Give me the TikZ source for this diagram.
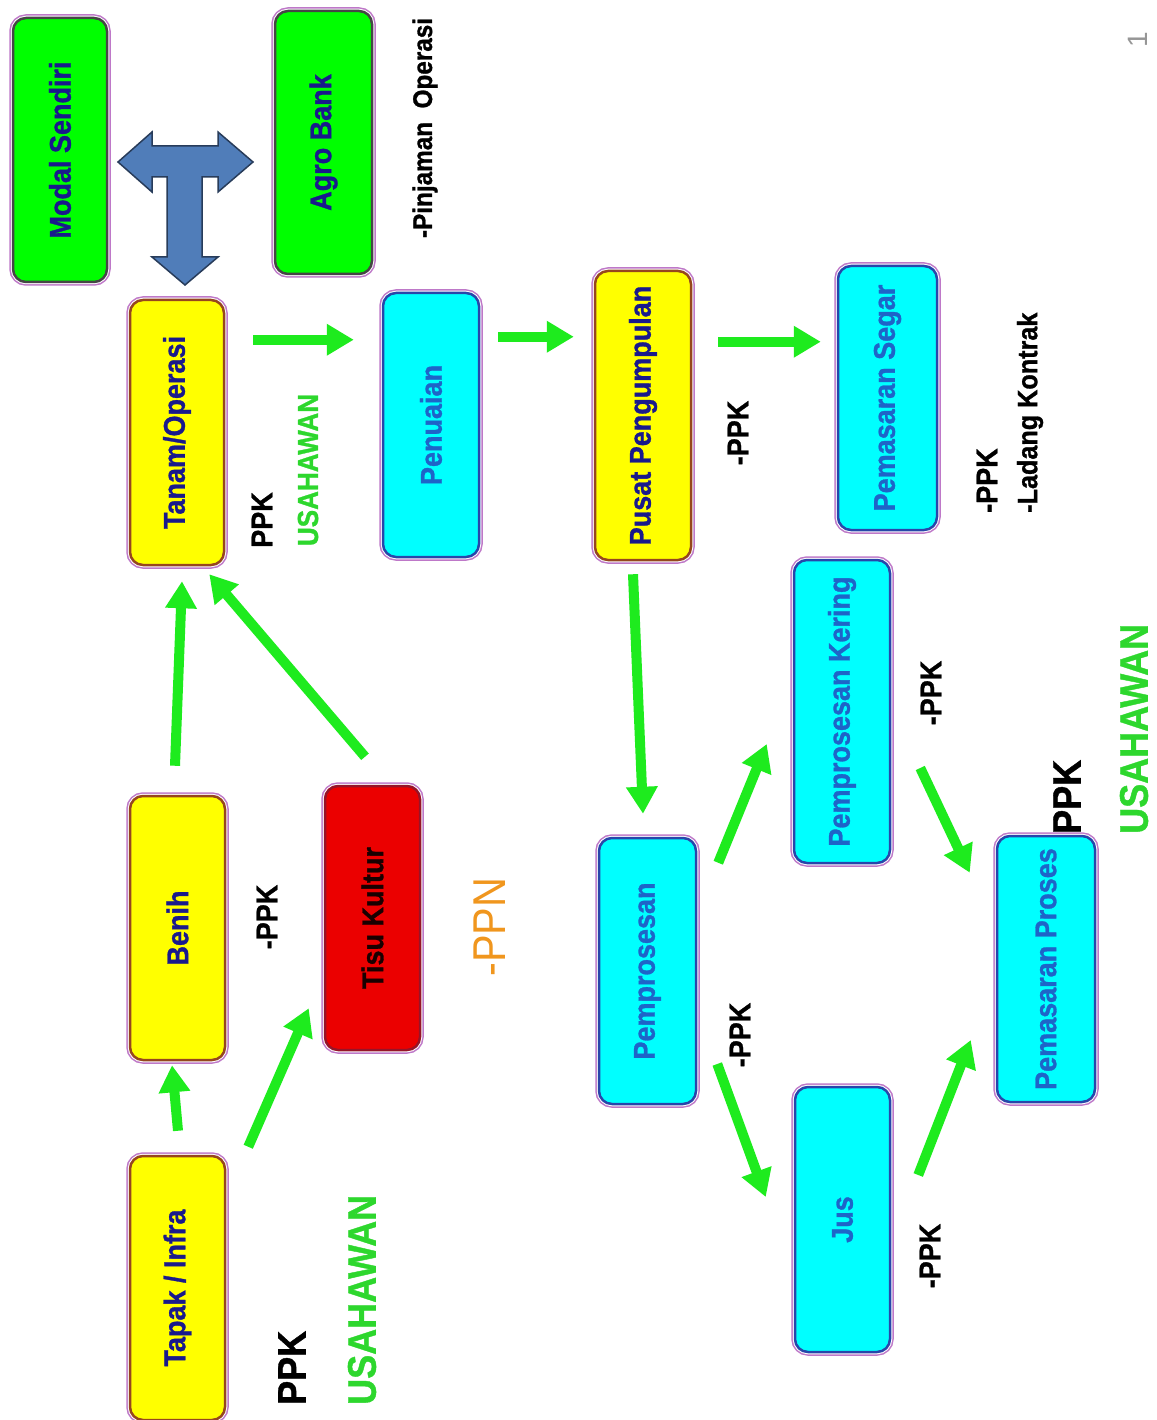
\documentclass[tikz,border=0pt]{standalone}
\usepackage{fontspec}
\usepackage{graphicx}
\setmainfont{Liberation Sans}
\newfontfamily\nf[FakeStretch=0.9, BoldFeatures={FakeBold=1}]{Liberation Sans}
\usetikzlibrary{arrows.meta,calc}
\definecolor{outerp}{RGB}{190,120,200}
\definecolor{brownline}{RGB}{150,70,30}
\definecolor{blueline}{RGB}{40,70,170}
\definecolor{grayline}{RGB}{70,70,70}
\definecolor{redline}{RGB}{150,20,40}
\definecolor{navytext}{RGB}{25,25,140}
\definecolor{bluetext}{RGB}{30,100,200}
\definecolor{flowgreen}{RGB}{30,235,30}
\definecolor{usgreen}{RGB}{45,215,45}
\definecolor{ppnorange}{RGB}{240,150,30}
\definecolor{steel}{RGB}{80,125,185}
\definecolor{steelline}{RGB}{40,60,90}
\definecolor{boxred}{RGB}{235,0,0}
\definecolor{boxcyan}{RGB}{0,255,255}
\definecolor{boxyellow}{RGB}{255,255,0}
\definecolor{boxgreen}{RGB}{0,255,0}
\definecolor{pagegray}{RGB}{150,150,150}
\begin{document}
\begin{tikzpicture}[x=1pt,y=-1pt,
  box/.style={rounded corners=13pt, inner sep=0pt,
    preaction={draw=outerp,line width=7.5pt},
    preaction={draw=white,line width=4.5pt},
    line width=2.5pt, font=\nf\bfseries\fontsize{30}{34}\selectfont},
  ybox/.style={box, fill=boxyellow, draw=brownline, text=navytext},
  cbox/.style={box, fill=boxcyan, draw=blueline, text=bluetext},
  gbox/.style={box, fill=boxgreen, draw=grayline, text=navytext},
  rbox/.style={box, fill=boxred, draw=redline, text={black!90!red}},
  lab/.style={rotate=90, inner sep=0pt, font=\nf\bfseries\fontsize{30}{34}\selectfont, text=black},
  biglab/.style={lab, font=\nf\bfseries\fontsize{40}{44}\selectfont},
  uslab/.style={lab, text=usgreen},
  flow/.style={draw=flowgreen, line width=10pt, -{Triangle[width=30pt,length=27pt]}},
  tarrow/.style={fill=steel, draw=steelline, line width=1.5pt, line join=miter}
]
\useasboundingbox (0,0) rectangle (1156,1420);
\fill[white] (0,0) rectangle (1156,1420);
\clip (0,0) rectangle (1156,1420);

% boxes
\node[gbox, minimum width=94pt, minimum height=264pt] (modal) at (60,150) {\rotatebox{90}{Modal Sendiri}};
\node[gbox, minimum width=97pt, minimum height=263pt] (agro) at (323.5,142.5) {\rotatebox{90}{Agro Bank}};
\node[ybox, minimum width=94pt, minimum height=265pt] (tanam) at (177,432.5) {\rotatebox{90}{Tanam/Operasi}};
\node[cbox, minimum width=96pt, minimum height=264pt] (penuaian) at (431,425) {\rotatebox{90}{Penuaian}};
\node[ybox, minimum width=96pt, minimum height=289pt] (pusat) at (643,415.5) {\rotatebox{90}{Pusat Pengumpulan}};
\node[cbox, minimum width=99pt, minimum height=264pt] (segar) at (887.5,398) {\rotatebox{90}{Pemasaran Segar}};
\node[ybox, minimum width=95pt, minimum height=264pt] (benih) at (177.5,928) {\rotatebox{90}{Benih}};
\node[rbox, minimum width=95pt, minimum height=264pt] (tisu) at (372.5,918) {\rotatebox{90}{Tisu Kultur}};
\node[ybox, minimum width=95pt, minimum height=264pt] (tapak) at (177.5,1288) {\rotatebox{90}{Tapak / Infra}};
\node[cbox, minimum width=97pt, minimum height=266pt] (pemprosesan) at (647.5,971) {\rotatebox{90}{Pemprosesan}};
\node[cbox, minimum width=96pt, minimum height=303pt] (kering) at (842,711.5) {\rotatebox{90}{Pemprosesan Kering}};
\node[cbox, minimum width=98pt, minimum height=266pt] (proses) at (1046,969) {\rotatebox{90}{Pemasaran Proses}};
\node[cbox, minimum width=95pt, minimum height=265pt] (jus) at (842.5,1219.5) {\rotatebox{90}{Jus}};

% T-shaped block arrow
\draw[tarrow] (118,162) -- (152,132) -- (152,146) -- (218,146) -- (218,132) -- (253,162)
  -- (218,192) -- (218,177) -- (202,177) -- (202,257) -- (218,257) -- (185,285)
  -- (152,257) -- (167,257) -- (167,177) -- (152,177) -- (152,192) -- cycle;

% labels
\node[lab, font=\nf\bfseries\fontsize{27}{30}\selectfont] (pinjaman) at (425,128) {-Pinjaman\ \ Operasi};
\node[lab] (ppk1) at (262,520) {PPK};
\node[uslab, font=\nf\bfseries\fontsize{29}{32}\selectfont] (us1) at (308,470) {USAHAWAN};
\node[lab] (ppk2) at (738,433) {-PPK};
\node[lab, anchor=west] (ppk3) at (987,513) {-PPK};
\node[lab, anchor=west, font=\nf\bfseries\fontsize{28}{32}\selectfont] (ladang) at (1030,513) {-Ladang Kontrak};
\node[lab] (ppk4) at (267,917) {-PPK};
\node[lab, font=\nf\fontsize{46}{50}\selectfont, text=ppnorange] (ppn) at (490,927) {-PPN};
\node[biglab, anchor=west] (ppk5) at (292,1405) {PPK};
\node[biglab, text=usgreen, anchor=west] (us2) at (362,1405) {USAHAWAN};
\node[lab] (ppk6) at (931,693) {-PPK};
\node[biglab, anchor=west] (ppk7) at (1067,834) {PPK};
\node[biglab, text=usgreen, anchor=west, font=\nf\bfseries\fontsize{40}{44}\selectfont] (us3) at (1134,834) {USAHAWAN};
\node[lab] (ppk8) at (740,1035) {-PPK};
\node[lab] (ppk9) at (930,1256) {-PPK};
\node[rotate=90, inner sep=0pt, text=pagegray, font=\rmfamily\fontsize{28}{30}\selectfont] (pagenum) at (1138,40) {1};

% flow arrows
\draw[flow] ($(tapak.north)+(0.5,-24)$) -- ($(benih.south)+(-5.5,4)$);
\draw[flow] ($(tapak.north east)+(22,-8)$) -- ($(tisu.south west)+(-15,-43)$);
\draw[flow] ($(benih.north)+(-2.5,-29)$) -- ($(tanam.south)+(5,15)$);
\draw[flow] ($(tisu.north)+(-7.5,-28)$) -- ($(tanam.south east)+(-16,8)$);
\draw[flow] ($(tanam.north east)+(28,41)$) -- ($(penuaian.north west)+(-28,48)$);
\draw[flow] ($(penuaian.north east)+(18,45)$) -- ($(pusat.north west)+(-20,67)$);
\draw[flow] ($(pusat.north east)+(26,72)$) -- ($(segar.north west)+(-16,77)$);
\draw[flow] ($(pusat.south)+(-10,13)$) -- ($(pemprosesan.north)+(-4.5,-23)$);
\draw[flow] ($(pemprosesan.north east)+(21,26)$) -- ($(kering.west)+(-26,32.5)$);
\draw[flow] ($(pemprosesan.east)+(20,93)$) -- ($(jus.west)+(-28,-22.5)$);
\draw[flow] ($(kering.east)+(29,56.5)$) -- ($(proses.north west)+(-26,38)$);
\draw[flow] ($(jus.east)+(27,-44.5)$) -- ($(proses.west)+(-25,71)$);
\end{tikzpicture}
\end{document}
